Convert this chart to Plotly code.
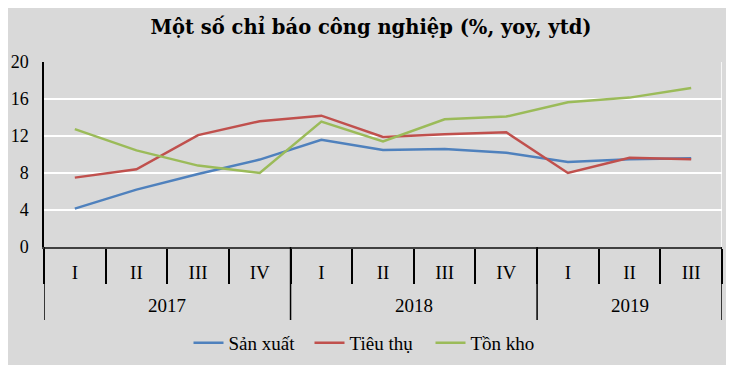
import plotly.graph_objects as go

years = ["2017"] * 4 + ["2018"] * 4 + ["2019"] * 3
quarters = ["I", "II", "III", "IV", "I", "II", "III", "IV", "I", "II", "III"]

san_xuat = [4.15, 6.2, 7.9, 9.45, 11.6, 10.5, 10.6, 10.2, 9.2, 9.5, 9.6]
tieu_thu = [7.5, 8.4, 12.1, 13.6, 14.2, 11.9, 12.2, 12.4, 8.0, 9.65, 9.5]
ton_kho = [12.75, 10.45, 8.8, 8.0, 13.55, 11.4, 13.8, 14.1, 15.65, 16.15, 17.2]

series = [
    ("Sản xuất", san_xuat, "#4F81BD"),
    ("Tiêu thụ", tieu_thu, "#C0504D"),
    ("Tồn kho", ton_kho, "#9BBB59"),
]

font_family = "Liberation Serif, DejaVu Serif, serif"
keys = [f"{y} {q}" for y, q in zip(years, quarters)]

# page body has an 8px default margin; figure is sized to fit the window
W, H = 726, 357
ML, MR, MT, MB = 36, 12, 54, 118

fig = go.Figure()
for name, vals, color in series:
    fig.add_trace(go.Scatter(
        x=keys, y=vals, name=name, mode="lines",
        line=dict(color=color, width=2.5),
    ))

# year group labels and dividers
plot_h = H - MT - MB
div_bottom = -73 / plot_h
year_y = -58 / plot_h
unique_years = list(dict.fromkeys(years))
bounds = []
for yr in unique_years:
    idx = [i for i, v in enumerate(years) if v == yr]
    fig.add_annotation(x=sum(idx) / len(idx), y=year_y, xref="x", yref="paper",
                       text=yr, showarrow=False, font=dict(size=19),
                       xanchor="center", yanchor="middle")
    bounds.append(idx[0] - 0.5)
bounds.append(len(years) - 0.5)
for b in bounds:
    fig.add_shape(type="line", xref="x", yref="paper", x0=b, x1=b, y0=0, y1=div_bottom,
                  line=dict(color="black", width=1.5), layer="above")
# right white border of plot area
fig.add_shape(type="line", xref="x", yref="paper", x0=len(years) - 0.5, x1=len(years) - 0.5,
              y0=0, y1=1, line=dict(color="white", width=1.5), layer="below")

fig.update_layout(
    width=W, height=H,
    margin=dict(l=ML, r=MR, t=MT, b=MB, autoexpand=False),
    paper_bgcolor="#D9D9D9", plot_bgcolor="#D9D9D9",
    font=dict(family=font_family, size=19, color="black"),
    title=dict(text="<b>Một số chỉ báo công nghiệp (%, yoy, ytd)</b>",
               x=0.5, xanchor="center", y=1 - 19 / H, yanchor="middle",
               font=dict(size=19.5, family="DejaVu Serif, serif")),
    showlegend=True,
    legend=dict(orientation="h", xref="container", yref="container",
                x=362 / W, xanchor="center", y=1 - 335 / H, yanchor="middle",
                font=dict(size=19), bgcolor="rgba(0,0,0,0)", entrywidth=76),
    xaxis=dict(type="category", range=[-0.5, len(keys) - 0.5], tickson="boundaries",
               tickvals=keys, ticktext=quarters, automargin=False,
               showline=True, linecolor="#404040", linewidth=1.5,
               ticks="outside", ticklen=35, tickcolor="black", tickwidth=1.5,
               ticklabelstandoff=7,
               showgrid=False, tickfont=dict(size=19)),
    yaxis=dict(range=[0, 20], dtick=4, showgrid=True, gridcolor="white", gridwidth=1.5,
               showline=True, linecolor="black", linewidth=1.5, zeroline=False,
               automargin=False,
               ticks="", ticklabelstandoff=10, tickfont=dict(size=18)),
)

fig.write_html("out.html")
